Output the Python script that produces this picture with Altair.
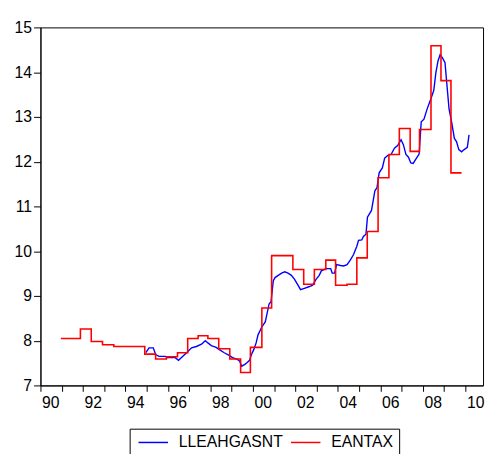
import json
import altair as alt
import pandas as pd

SERIES = ["LLEAHGASNT", "EANTAX"]
COLORS = ["#0000FF", "#FF0000"]

BLUE_YEAR = [1994.96, 1995.11, 1995.31, 1995.42, 1995.58, 1995.88, 1995.96, 1996.34, 1996.50, 1996.65,
             1996.88, 1997.11, 1997.34, 1997.58, 1997.76, 1997.88, 1998.04, 1998.27, 1998.42, 1998.65,
             1998.88, 1999.04, 1999.27, 1999.38, 1999.47, 1999.62, 1999.73, 1999.84, 1999.93, 2000.04,
             2000.15, 2000.24, 2000.35, 2000.42, 2000.58, 2000.76, 2000.85, 2000.96, 2001.04, 2001.19,
             2001.35, 2001.50, 2001.65, 2001.81, 2001.96, 2002.12, 2002.24, 2002.42, 2002.66, 2002.81,
             2002.97, 2003.12, 2003.22, 2003.43, 2003.66, 2003.73, 2003.84, 2003.94, 2004.12, 2004.27,
             2004.43, 2004.58, 2004.73, 2004.89, 2004.97, 2005.12, 2005.20, 2005.32, 2005.39, 2005.58,
             2005.74, 2005.84, 2005.94, 2006.09, 2006.20, 2006.35, 2006.50, 2006.66, 2006.81, 2006.97,
             2007.08, 2007.20, 2007.32, 2007.43, 2007.54, 2007.66, 2007.82, 2007.92, 2008.05, 2008.20,
             2008.35, 2008.51, 2008.61, 2008.71, 2008.81, 2008.92, 2009.04, 2009.12, 2009.23, 2009.35,
             2009.48, 2009.58, 2009.69, 2009.82, 2009.94, 2010.09, 2010.17]
BLUE_VALUE = [7.73, 7.84, 7.84, 7.69, 7.65, 7.65, 7.62, 7.62, 7.56, 7.63,
              7.73, 7.84, 7.87, 7.92, 8.00, 7.95, 7.89, 7.85, 7.80, 7.73,
              7.67, 7.62, 7.58, 7.54, 7.43, 7.47, 7.51, 7.56, 7.69, 7.80,
              7.95, 8.13, 8.24, 8.31, 8.42, 8.82, 8.87, 9.34, 9.41, 9.46,
              9.51, 9.54, 9.51, 9.46, 9.37, 9.24, 9.14, 9.17, 9.21, 9.24,
              9.37, 9.46, 9.56, 9.61, 9.61, 9.51, 9.51, 9.70, 9.68, 9.67,
              9.70, 9.80, 9.92, 10.11, 10.24, 10.25, 10.33, 10.38, 10.76, 10.91,
              11.35, 11.42, 11.75, 11.86, 12.08, 12.14, 12.16, 12.30, 12.36, 12.49,
              12.38, 12.16, 12.10, 11.97, 11.96, 12.05, 12.17, 12.89, 12.95, 13.18,
              13.37, 13.59, 13.99, 14.25, 14.39, 14.32, 14.21, 13.77, 13.18, 12.89,
              12.52, 12.45, 12.27, 12.22, 12.27, 12.32, 12.60]

RED_YEAR = [1990.96, 1991.88, 1992.39, 1992.92, 1993.45, 1994.91, 1995.42, 1995.93, 1996.45, 1996.93,
            1997.42, 1997.88, 1998.39, 1998.91, 1999.42, 1999.88, 2000.42, 2000.88, 2001.88, 2002.39,
            2002.89, 2003.43, 2003.89, 2004.43, 2004.89, 2005.38, 2005.89, 2006.40, 2006.89, 2007.40,
            2007.84, 2008.38, 2008.85, 2009.32, 2009.82]
RED_VALUE = [8.05, 8.26, 7.98, 7.91, 7.87, 7.70, 7.59, 7.64, 7.73, 8.05,
             8.11, 8.05, 7.82, 7.59, 7.29, 7.85, 8.73, 9.90, 9.59, 9.26,
             9.59, 9.80, 9.24, 9.26, 9.85, 10.44, 11.64, 12.16, 12.74, 12.23,
             12.72, 14.59, 13.81, 11.75, 11.75]

X_TICKS = list(range(1990, 2011))
X_LABELS = ["90", "", "92", "", "94", "", "96", "", "98", "", "00", "", "02", "", "04", "", "06", "", "08", "", "10"]
Y_TICKS = [7, 8, 9, 10, 11, 12, 13, 14, 15]

FONT = "Liberation Sans"

blue_df = pd.DataFrame({"year": BLUE_YEAR, "value": BLUE_VALUE, "series": SERIES[0]})
red_df = pd.DataFrame({"year": RED_YEAR, "value": RED_VALUE, "series": SERIES[1]})

label_expr = json.dumps(X_LABELS) + "[datum.value - 1990]"

x_enc = alt.X("year:Q",
              scale=alt.Scale(domain=[1990, 2010.83], nice=False, zero=False),
              axis=alt.Axis(values=X_TICKS, labelExpr=label_expr, title=None, grid=False,
                            tickSize=6, labelAlign="left", labelOffset=1, labelPadding=3,
                            labelFontSize=16, labelFont=FONT, labelColor="black",
                            domainColor="black", tickColor="black", labelOverlap=False,
                            labelFlush=False))
y_enc = alt.Y("value:Q",
              scale=alt.Scale(domain=[7, 15], nice=False, zero=False),
              axis=alt.Axis(values=Y_TICKS, title=None, grid=False, tickSize=7, labelPadding=2,
                            labelFontSize=16, labelFont=FONT, labelColor="black",
                            domainColor="black", tickColor="black"))
color_enc = alt.Color("series:N",
                      scale=alt.Scale(domain=SERIES, range=COLORS),
                      legend=alt.Legend(orient="none", legendX=90.7, legendY=408,
                                        direction="horizontal", title=None,
                                        strokeColor="black", padding=6,
                                        symbolType="M-3,0H3", symbolSize=100,
                                        symbolStrokeWidth=1.5, symbolOffset=10,
                                        labelOffset=18, labelFontSize=16, labelFont=FONT,
                                        labelColor="black", columnPadding=5))

blue = alt.Chart(blue_df).mark_line(strokeWidth=1.4).encode(x=x_enc, y=y_enc, color=color_enc)
red = alt.Chart(red_df).mark_line(strokeWidth=1.6, interpolate="step-after").encode(
    x=x_enc, y=y_enc, color=color_enc)

chart = alt.layer(blue, red).properties(
    width=450, height=364,
    autosize=alt.AutoSizeParams(type="none"),
    padding={"left": 33, "top": 16, "right": 3, "bottom": 66},
    background="white",
).configure_view(stroke="black", strokeWidth=1)

chart.save("out.html", embed_options={"renderer": "svg", "actions": False})
